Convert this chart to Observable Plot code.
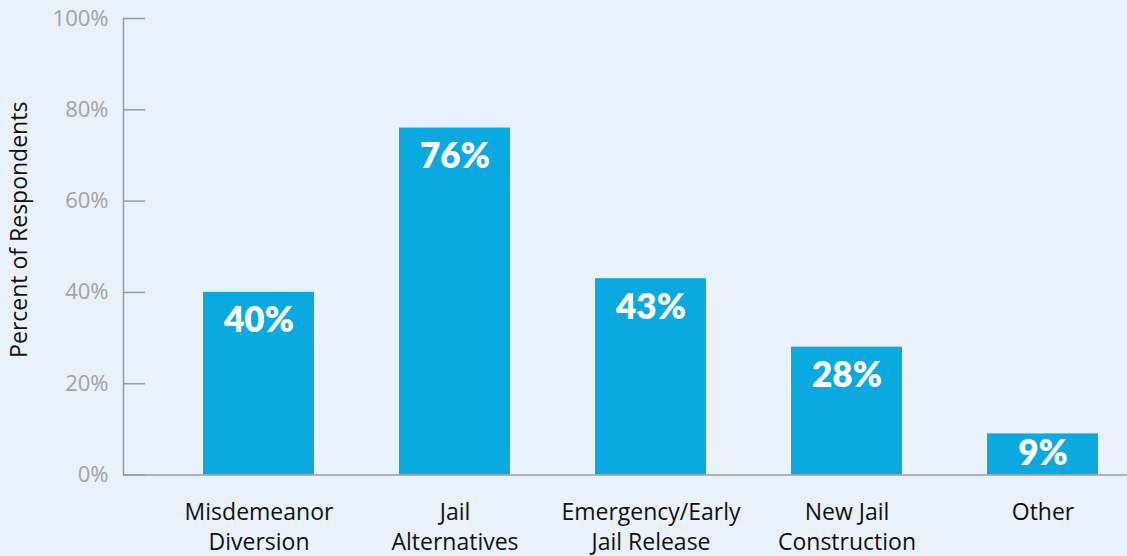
<!DOCTYPE html>
<html>
<head>
<meta charset="utf-8">
<script src="https://cdn.jsdelivr.net/npm/d3@7"></script>
<script src="https://cdn.jsdelivr.net/npm/@observablehq/plot@0.6"></script>
<style>
  html, body { margin: 0; padding: 0; background: #e9f1fa; }
  #chart svg { display: block; }
</style>
</head>
<body>
<div id="chart"></div>
<script>
const categories = ["Misdemeanor\nDiversion", "Jail\nAlternatives", "Emergency/Early\nJail Release", "New Jail\nConstruction", "Other"];
const values = [40, 76, 43, 28, 9];
const yTicks = [0, 20, 40, 60, 80, 100];
const yLabel = "Percent of Respondents";

const data = categories.map((c, i) => ({category: c, value: values[i]}));
const tall = data.filter(d => d.value >= 15);
const short = data.filter(d => d.value < 15);

const barColor = "#0aa9e0";
const axisColor = "#9b9b9b";

const labelStyle = {
  x: "category",
  text: d => d.value + "%",
  fill: "white",
  fontFamily: "Lato, sans-serif",
  fontSize: 35,
  fontWeight: 800
};

const chart = Plot.plot({
  width: 1127,
  height: 556,
  marginTop: 18,
  marginBottom: 81.5,
  marginLeft: 123,
  marginRight: 0,
  style: {background: "#e9f1fa", fontFamily: "'Open Sans', sans-serif"},
  x: {domain: categories, paddingInner: 0.434, paddingOuter: 0.275, align: 0.73},
  y: {domain: [0, 100]},
  marks: [
    Plot.barY(data, {x: "category", y: "value", fill: barColor}),
    Plot.ruleY([0], {stroke: axisColor, strokeWidth: 1.5}),
    Plot.frame({anchor: "left", stroke: axisColor, strokeWidth: 1.5}),
    Plot.axisY({
      ticks: yTicks,
      tickFormat: d => d + "%",
      tickSize: -22,
      tickPadding: 37,
      stroke: axisColor,
      strokeWidth: 1.5,
      fill: "#a3a3a3",
      fontSize: 22,
      label: null
    }),
    Plot.axisX({
      tickSize: 0,
      tickPadding: 24,
      fill: "#111",
      fontSize: 23,
      lineHeight: 1.3,
      label: null
    }),
    Plot.text([yLabel], {
      text: d => d,
      frameAnchor: "left",
      textAnchor: "middle",
      rotate: -90,
      dx: -104,
      dy: -17,
      fontSize: 23,
      fill: "#111"
    }),
    Plot.text(tall, {...labelStyle, y: "value", lineAnchor: "top", dy: 15}),
    Plot.text(short, {...labelStyle, y: d => 0, lineAnchor: "bottom", dy: -10})
  ]
});
document.getElementById("chart").appendChild(chart);
</script>
</body>
</html>
